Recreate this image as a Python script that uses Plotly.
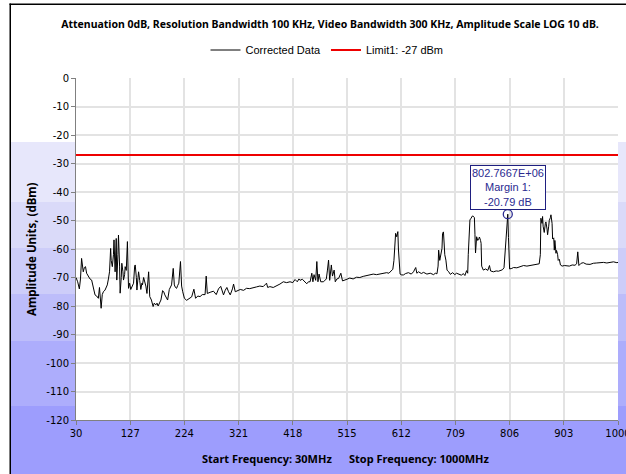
import plotly.graph_objects as go

# ---------------- data ----------------
freq_mhz = [
    30, 33, 36, 38, 40, 42, 43, 45, 47, 49, 52, 55, 58, 61, 64, 67, 70, 72, 73, 75,
    77, 79, 82, 84, 86, 88, 90, 92, 93, 95, 97, 98, 99, 100, 102, 103, 105, 106, 108, 109,
    111, 112, 114, 115, 117, 118, 120, 122, 124, 126, 128, 130, 133, 135, 136, 138, 139, 141, 142, 144,
    146, 148, 149, 151, 153, 155, 157, 160, 162, 165, 168, 170, 173, 175, 177, 180, 182, 185, 187, 189,
    191, 194, 197, 199, 201, 204, 206, 208, 210, 212, 214, 217, 219, 221, 224, 228, 231, 234, 237, 241,
    244, 248, 252, 256, 261, 263, 265, 270, 276, 281, 285, 289, 292, 294, 297, 300, 303, 306, 310, 312,
    315, 320, 324, 330, 335, 341, 347, 353, 359, 365, 368, 371, 373, 377, 383, 389, 395, 401, 407, 413,
    418, 422, 426, 429, 431, 435, 440, 443, 446, 449, 452, 454, 456, 459, 461, 463, 465, 468, 473, 476,
    478, 480, 482, 484, 487, 489, 492, 494, 497, 500, 504, 507, 511, 515, 520, 526, 532, 538, 544, 550,
    556, 562, 568, 574, 580, 586, 590, 593, 597, 599, 600, 602, 604, 606, 607, 608, 610, 613, 616, 620,
    625, 630, 634, 638, 640, 643, 648, 652, 658, 664, 670, 673, 676, 678, 679, 681, 682, 684, 685, 686,
    687.6, 689, 690, 692, 694, 697, 700, 704, 708, 711, 716, 720, 723, 726, 729, 731, 732, 733, 735, 737,
    739.5, 741, 743, 744, 745, 747, 749, 751, 752, 754, 755, 756, 759, 763, 767, 770, 772, 777, 782, 786,
    789, 793, 796, 799, 801, 802.7667, 804, 806, 810, 813, 819, 825, 831, 837, 843, 849, 855, 859, 861, 862,
    864, 865, 866, 868, 870, 871, 873, 874, 876, 877, 879, 880, 882, 883, 885, 886, 887, 889, 890, 892,
    893, 895, 897, 900, 904, 908, 913, 918, 923, 926, 928, 930, 934, 938, 943, 950, 956, 962, 968, 974,
    980, 986, 992, 998, 1000,
]
amplitude_dbm = [
    -70.0, -71.5, -74.0, -70.5, -63.3, -67.5, -68.0, -66.5, -66.2, -68.5, -69.7, -70.5, -70.9, -73.5, -76.1, -76.5, -77.3, -73.5, -75.5, -80.8,
    -76.0, -75.0, -74.4, -73.5, -72.6, -70.5, -68.0, -59.8, -64.0, -66.2, -62.0, -56.8, -64.0, -68.0, -56.3, -70.9, -62.0, -55.1, -66.0, -75.5,
    -70.0, -65.0, -68.0, -70.9, -69.0, -66.2, -67.5, -57.4, -73.8, -72.0, -74.2, -73.0, -72.0, -66.0, -65.6, -70.0, -74.4, -70.0, -68.0, -71.0,
    -74.2, -72.0, -72.6, -70.0, -71.5, -73.0, -75.6, -68.0, -76.7, -77.9, -80.2, -79.0, -79.6, -79.0, -80.0, -79.0, -77.9, -74.6, -75.0, -76.1,
    -77.0, -77.9, -74.2, -73.0, -72.6, -66.8, -72.6, -73.5, -73.8, -72.8, -72.0, -64.4, -73.0, -75.0, -77.3, -78.0, -77.5, -77.3, -76.8, -74.1,
    -77.3, -76.5, -76.7, -76.0, -76.0, -69.5, -75.6, -75.2, -74.8, -76.0, -74.0, -73.1, -75.5, -76.1, -74.5, -73.5, -75.0, -76.1, -74.0, -72.3,
    -75.0, -74.5, -74.2, -74.5, -73.8, -73.9, -73.5, -73.3, -73.0, -73.2, -72.6, -72.0, -73.5, -73.2, -73.5, -73.0, -72.3, -71.5, -71.8, -71.5,
    -71.8, -70.7, -71.5, -70.5, -71.0, -70.6, -71.8, -72.2, -71.5, -71.5, -68.5, -71.5, -69.0, -71.0, -64.4, -71.5, -68.8, -71.5, -71.5, -70.8,
    -70.5, -67.4, -63.9, -71.0, -65.6, -69.5, -67.4, -71.5, -70.5, -70.3, -68.5, -71.2, -70.8, -70.6, -70.2, -70.5, -69.9, -70.0, -69.6, -69.4,
    -69.2, -68.8, -69.0, -68.8, -68.7, -68.3, -68.5, -68.0, -67.1, -64.0, -61.5, -54.5, -55.7, -53.9, -60.0, -64.5, -68.8, -69.1, -69.1, -68.6,
    -68.3, -68.8, -68.0, -66.5, -68.5, -68.0, -68.6, -68.2, -68.8, -68.5, -69.0, -68.5, -68.7, -66.0, -60.4, -64.0, -62.8, -61.0, -59.8, -54.5,
    -54.0, -58.6, -62.0, -63.9, -67.4, -68.0, -68.9, -68.3, -69.0, -68.5, -68.8, -69.2, -68.6, -69.3, -67.6, -68.5, -62.0, -55.7, -49.8, -49.2,
    -48.4, -48.5, -49.0, -55.0, -61.4, -55.7, -57.0, -56.3, -55.8, -57.0, -58.0, -66.0, -67.4, -67.0, -67.5, -65.8, -67.7, -68.0, -67.7, -67.8,
    -67.5, -67.3, -66.6, -58.5, -52.0, -47.79, -56.0, -67.0, -66.8, -66.5, -66.6, -66.2, -65.8, -66.0, -65.8, -65.8, -65.6, -65.2, -62.0, -49.2,
    -51.0, -48.6, -52.0, -54.2, -51.0, -50.5, -53.0, -55.0, -52.0, -50.0, -49.0, -48.0, -51.0, -56.5, -56.1, -60.4, -57.0, -61.5, -60.5, -62.0,
    -64.0, -63.6, -65.6, -66.0, -65.8, -65.9, -66.0, -65.6, -65.7, -65.2, -61.0, -65.8, -65.0, -64.8, -65.3, -65.4, -65.0, -64.9, -64.8, -64.7,
    -64.9, -64.6, -64.5, -64.8, -64.7,
]
limit_freq = [30, 1000]
limit_dbm = [-27, -27]
marker_freq = [802.7667]
marker_dbm = [-47.79]
x_ticks = [30, 127, 224, 321, 418, 515, 612, 709, 806, 903, 1000]
y_ticks = [0, -10, -20, -30, -40, -50, -60, -70, -80, -90, -100, -110, -120]

TITLE = "Attenuation 0dB, Resolution Bandwidth 100 KHz, Video Bandwidth 300 KHz, Amplitude Scale LOG 10 dB."
XTITLE = "Start Frequency: 30MHz\u00a0\u00a0\u00a0\u00a0\u00a0 Stop Frequency: 1000MHz"
YTITLE = "Amplitude Units, (dBm)"
ANN_TEXT = "802.7667E+06<br>Margin 1:<br>-20.79 dB"

# ---------------- figure ----------------
fig = go.Figure()
fig.add_trace(go.Scatter(x=freq_mhz, y=amplitude_dbm, mode="lines", name="Corrected Data",
                         line=dict(color="black", width=1)))
fig.add_trace(go.Scatter(x=limit_freq, y=limit_dbm, mode="lines", name="Limit1: -27 dBm",
                         line=dict(color="#ee0000", width=2)))
fig.add_trace(go.Scatter(x=marker_freq, y=marker_dbm, mode="markers", showlegend=False,
                         marker=dict(symbol="circle-open", size=9, color="#2a2a90", line=dict(width=1.3))))

# plot area px: x 76..618, y 78..420
L, R, T, B = 76, 618, 78, 420
W, H = R - L, B - T
def px(xp):
    return (xp - L) / W
def py(yp):
    return (B - yp) / H

bands = [(142, 202, "#e7e7fb"), (202, 248, "#dadaf9"), (248, 294, "#cdcdf9"),
         (294, 341, "#bdbdfa"), (341, 406, "#adadfc"), (406, 490, "#9d9dfd")]
shapes = []
for y0, y1, c in bands:
    shapes.append(dict(type="rect", xref="paper", yref="paper", x0=px(11), x1=px(640),
                       y0=py(y1), y1=py(y0), fillcolor=c, line=dict(width=0), layer="below"))
shapes.append(dict(type="rect", xref="paper", yref="paper", x0=0, x1=1, y0=0, y1=1,
                   fillcolor="white", line=dict(width=0), layer="below"))
# outer frame (left and top edges) as thin filled rectangles
shapes.append(dict(type="rect", xref="paper", yref="paper", x0=px(9.5), x1=px(11),
                   y0=py(480), y1=py(3.5), fillcolor="black", line=dict(width=0), layer="below"))
shapes.append(dict(type="rect", xref="paper", yref="paper", x0=px(9.5), x1=px(640),
                   y0=py(5), y1=py(3.5), fillcolor="black", line=dict(width=0), layer="below"))

tickfont = dict(family="DejaVu Sans", size=10, color="black")
fig.update_layout(
    width=626, height=474,
    margin=dict(l=L, r=626 - R, t=T, b=474 - B, autoexpand=False),
    paper_bgcolor="white",
    plot_bgcolor="rgba(0,0,0,0)",
    title=dict(text="<b>" + TITLE + "</b>", x=330 / 626, xref="container",
               xanchor="center", y=1 - 24 / 474, yanchor="middle",
               font=dict(family="Noto Sans", size=10.5, color="black")),
    showlegend=True,
    legend=dict(orientation="h", x=px(327), xanchor="center", y=py(50), yanchor="middle",
                font=dict(family="Liberation Sans", size=11, color="black"),
                itemwidth=30, bgcolor="rgba(0,0,0,0)"),
    xaxis=dict(range=[30, 1000], tickvals=x_ticks, ticktext=[str(v) for v in x_ticks],
               showgrid=True, gridcolor="#e3e3e3", gridwidth=2, zeroline=False,
               showline=True, linecolor="#808080", linewidth=1, automargin=False,
               ticklabeloverflow="allow",
               ticks="outside", ticklen=4, tickcolor="#808080", tickfont=tickfont),
    yaxis=dict(range=[-120, 0], tickvals=y_ticks, ticktext=[str(v) for v in y_ticks],
               showgrid=True, gridcolor="#e3e3e3", gridwidth=2, zeroline=False,
               showline=True, linecolor="#808080", linewidth=1, automargin=False,
               ticks="outside", ticklen=4, tickcolor="#808080", tickfont=tickfont),
    shapes=shapes,
    annotations=[
        dict(x=marker_freq[0], y=marker_dbm[0], xref="x", yref="y", text=ANN_TEXT, showarrow=False,
             xanchor="center", yanchor="bottom", yshift=4,
             font=dict(family="Liberation Sans", size=11, color="#2a2a90"),
             bgcolor="white", bordercolor="#1f1f80", borderwidth=1, borderpad=1),
        dict(x=px(31), y=0.5, xref="paper", yref="paper", text="<b>" + YTITLE + "</b>",
             showarrow=False, textangle=-90, xanchor="center", yanchor="middle",
             font=dict(family="Noto Sans", size=11.5, color="black")),
        dict(x=px(345), y=py(458), xref="paper", yref="paper", text="<b>" + XTITLE + "</b>",
             showarrow=False, xanchor="center", yanchor="middle",
             font=dict(family="Noto Sans", size=11, color="black")),
    ],
)

frame_js = (
    "document.documentElement.style.overflow='hidden';"
    "document.body.style.margin='0';document.body.style.padding='0';"
    "document.body.style.overflow='hidden';"
    "var fr=document.createElement('div');"
    "fr.style.cssText='position:absolute;left:10px;top:4px;width:616px;height:470px;"
    "border-left:1px solid #000;border-top:1px solid #000;box-sizing:border-box;"
    "pointer-events:none;z-index:10;';"
    "document.body.appendChild(fr);"
)
fig.write_html("out.html", config={"displayModeBar": False}, post_script=frame_js)
